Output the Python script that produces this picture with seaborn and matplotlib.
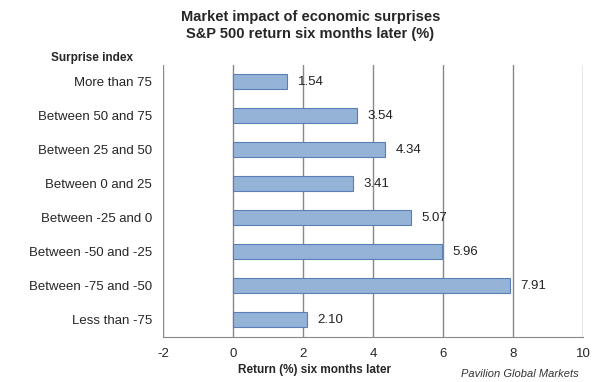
import matplotlib
matplotlib.use("Agg")
import matplotlib.pyplot as plt
import seaborn as sns
import pandas as pd

categories = ['More than 75', 'Between 50 and 75', 'Between 25 and 50', 'Between 0 and 25',
              'Between -25 and 0', 'Between -50 and -25', 'Between -75 and -50', 'Less than -75']
returns = [1.54, 3.54, 4.34, 3.41, 5.07, 5.96, 7.91, 2.10]
xticks = [-2, 0, 2, 4, 6, 8, 10]

df = pd.DataFrame({'Surprise index': categories, 'Return': returns})

sns.set_style('white')
plt.rcParams['font.family'] = ['Liberation Sans', 'DejaVu Sans']

fig = plt.figure(figsize=(6, 3.82), dpi=100)
ax = fig.add_axes([0.272, 0.118, 0.7, 0.712])

sns.barplot(data=df, x='Return', y='Surprise index', orient='h', ax=ax,
            color='#95B3D7', edgecolor='#5B7FB5', linewidth=0.8, width=0.44, saturation=1)

# value labels
for i, v in enumerate(returns):
    ax.text(v + 0.3, i, f'{v:.2f}', va='center', ha='left', fontsize=9.5, color='#222222')

ax.set_xlim(-2, 10)
ax.set_ylim(7.5, -0.5)
ax.set_xticks(xticks)
ax.set_xticklabels([str(t) for t in xticks], fontsize=9.5)
ax.tick_params(axis='y', labelsize=9.5, length=0, pad=8)
ax.tick_params(axis='x', length=0, pad=8)
ax.set_axisbelow(True)
ax.grid(axis='x', color='#888888', linewidth=1)
for s in ['top', 'right', 'left']:
    ax.spines[s].set_visible(False)
ax.spines['bottom'].set_color('#888888')
ax.set_ylabel('')
ax.set_xlabel('')

fig.text(0.517, 0.933, 'Market impact of economic surprises\nS&P 500 return six months later (%)',
         ha='center', va='center', fontsize=10.5, fontweight='bold', linespacing=1.25)
fig.text(0.085, 0.848, 'Surprise index', ha='left', va='center', fontsize=8.5, fontweight='bold')
fig.text(0.525, 0.032, 'Return (%) six months later', ha='center', va='center',
         fontsize=8.5, fontweight='bold')
fig.text(0.965, 0.022, 'Pavilion Global Markets', ha='right', va='center', fontsize=8, style='italic',
         color='#333333')

fig.savefig('out.png', dpi=100)
